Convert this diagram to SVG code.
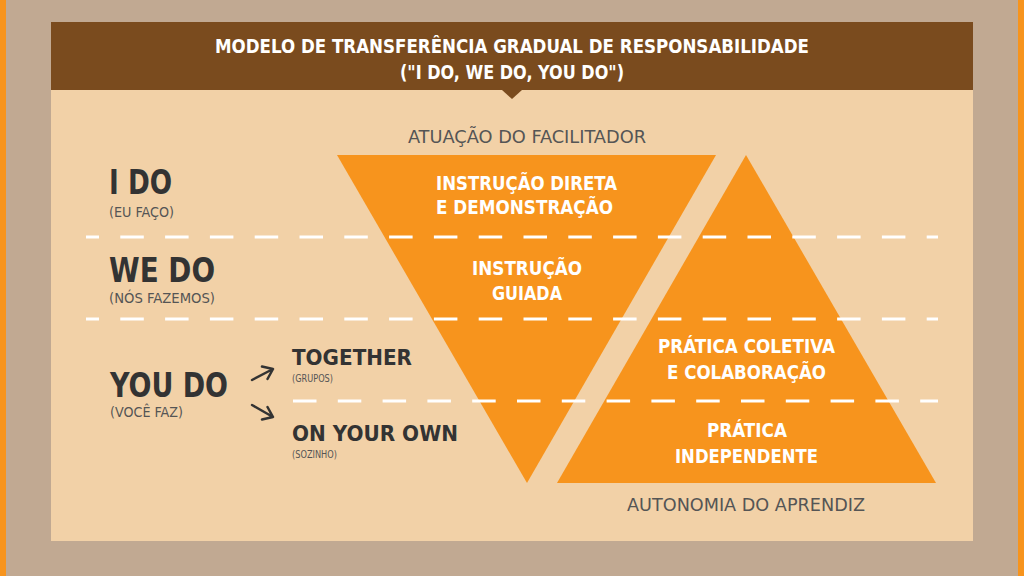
<svg xmlns="http://www.w3.org/2000/svg" width="1024" height="576" viewBox="0 0 1024 576">
<style>
.t{font-family:"DejaVu Sans Condensed","DejaVu Sans",sans-serif}
.w{fill:#ffffff;font-weight:bold;font-size:19px}
.big{fill:#333333;font-weight:bold;font-size:34px}
.mid{fill:#333333;font-weight:bold;font-size:22px}
.sub{fill:#555555;font-size:14.5px}
.tiny{fill:#555555;font-size:11px}
.axis{fill:#555555;font-size:18.5px}
.dash{stroke:#ffffff;stroke-width:3;fill:none;stroke-dasharray:23.5 21.3}
.arr{stroke:#333333;stroke-width:2.5;fill:none;stroke-linecap:round;stroke-linejoin:round}
</style>
<rect x="0" y="0" width="1024" height="576" fill="#c1a992"/>
<rect x="0" y="0" width="6" height="576" fill="#f7941d"/>
<rect x="1018" y="0" width="6" height="576" fill="#f7941d"/>
<rect x="51" y="22" width="922" height="519" fill="#f2d1a7"/>
<g id="header">
<rect x="51" y="22" width="922" height="68" fill="#7a4b1e"/>
<polygon points="502,90 522,90 512,99" fill="#7a4b1e"/>
<text class="t w" x="512" y="53" text-anchor="middle" textLength="594" lengthAdjust="spacingAndGlyphs">MODELO DE TRANSFERÊNCIA GRADUAL DE RESPONSABILIDADE</text>
<text class="t w" x="512" y="79" text-anchor="middle" textLength="224" lengthAdjust="spacingAndGlyphs">("I DO, WE DO, YOU DO")</text>
</g>
<g id="facilitador">
<polygon points="337,155 716,155 527,483" fill="#f7941d"/>
<text class="t axis" x="527" y="143" text-anchor="middle" textLength="238" lengthAdjust="spacingAndGlyphs">ATUAÇÃO DO FACILITADOR</text>
<text class="t w" x="526.5" y="190" text-anchor="middle" textLength="181" lengthAdjust="spacingAndGlyphs">INSTRUÇÃO DIRETA</text>
<text class="t w" x="524.5" y="214" text-anchor="middle" textLength="177" lengthAdjust="spacingAndGlyphs">E DEMONSTRAÇÃO</text>
<text class="t w" x="527" y="275" text-anchor="middle" textLength="110" lengthAdjust="spacingAndGlyphs">INSTRUÇÃO</text>
<text class="t w" x="527" y="300" text-anchor="middle" textLength="70" lengthAdjust="spacingAndGlyphs">GUIADA</text>
</g>
<g id="aprendiz">
<polygon points="746,155 936,483 557,483" fill="#f7941d"/>
<text class="t w" x="746.5" y="353" text-anchor="middle" textLength="177" lengthAdjust="spacingAndGlyphs">PRÁTICA COLETIVA</text>
<text class="t w" x="746.5" y="379" text-anchor="middle" textLength="159" lengthAdjust="spacingAndGlyphs">E COLABORAÇÃO</text>
<text class="t w" x="747" y="437" text-anchor="middle" textLength="80" lengthAdjust="spacingAndGlyphs">PRÁTICA</text>
<text class="t w" x="746.5" y="463" text-anchor="middle" textLength="143" lengthAdjust="spacingAndGlyphs">INDEPENDENTE</text>
<text class="t axis" x="746" y="511" text-anchor="middle" textLength="238" lengthAdjust="spacingAndGlyphs">AUTONOMIA DO APRENDIZ</text>
</g>
<g id="connectors">
<line class="dash" x1="86" y1="237" x2="938" y2="237" stroke-dashoffset="10.5"/>
<line class="dash" x1="86" y1="319" x2="938" y2="319" stroke-dashoffset="10.5"/>
<line class="dash" x1="293" y1="401" x2="938" y2="401" stroke-dashoffset="0"/>
<path class="arr" d="M252,380 L273,369 M262,366.5 L273,369 L267.5,379"/>
<path class="arr" d="M252,405 L273,417 M267.5,407 L273,417 L262,419.5"/>
</g>
<g id="ido">
<text class="t big" x="109" y="194" textLength="63" lengthAdjust="spacingAndGlyphs">I DO</text>
<text class="t sub" x="109" y="217" textLength="65" lengthAdjust="spacingAndGlyphs">(EU FAÇO)</text>
</g>
<g id="wedo">
<text class="t big" x="109" y="282" textLength="106" lengthAdjust="spacingAndGlyphs">WE DO</text>
<text class="t sub" x="109" y="303" textLength="106" lengthAdjust="spacingAndGlyphs">(NÓS FAZEMOS)</text>
</g>
<g id="youdo">
<text class="t big" x="110" y="397" textLength="118" lengthAdjust="spacingAndGlyphs">YOU DO</text>
<text class="t sub" x="110" y="417" textLength="73" lengthAdjust="spacingAndGlyphs">(VOCÊ FAZ)</text>
</g>
<g id="together">
<text class="t mid" x="292" y="365" textLength="120" lengthAdjust="spacingAndGlyphs">TOGETHER</text>
<text class="t tiny" x="292" y="382" textLength="41" lengthAdjust="spacingAndGlyphs">(GRUPOS)</text>
</g>
<g id="onyourown">
<text class="t mid" x="292" y="441" textLength="166" lengthAdjust="spacingAndGlyphs">ON YOUR OWN</text>
<text class="t tiny" x="292" y="458" textLength="45" lengthAdjust="spacingAndGlyphs">(SOZINHO)</text>
</g>
</svg>
